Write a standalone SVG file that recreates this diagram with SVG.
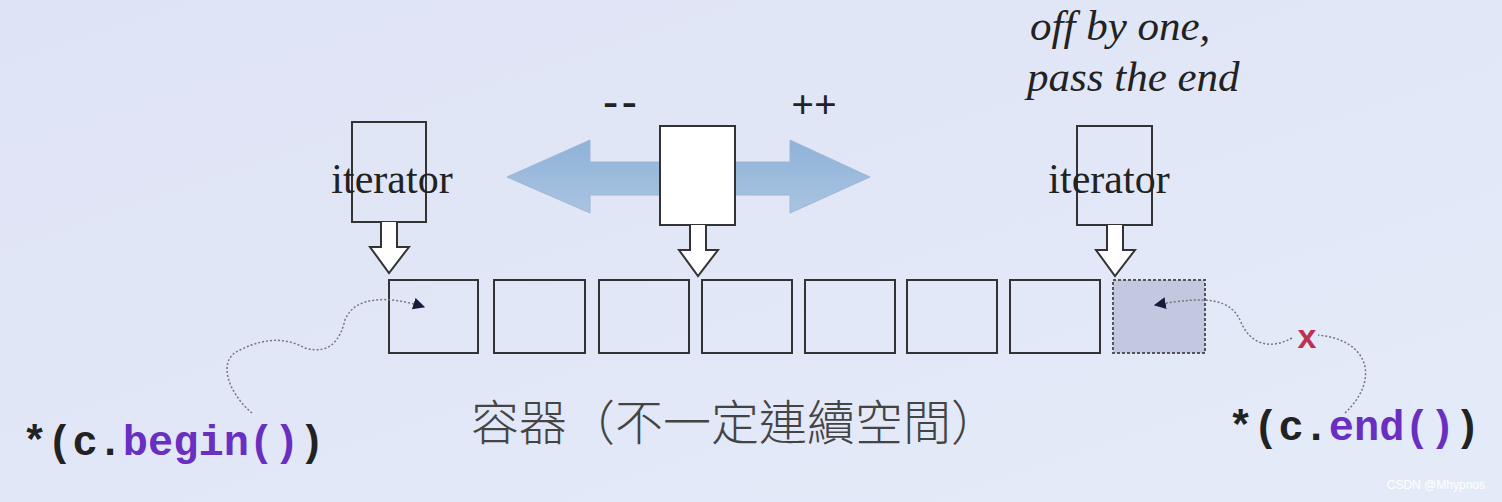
<svg xmlns="http://www.w3.org/2000/svg" width="1502" height="502" viewBox="0 0 1502 502">
<defs>
<linearGradient id="bg" x1="0" y1="0" x2="1" y2="1"><stop offset="0" stop-color="#dfe3f6"/><stop offset="1" stop-color="#e4ebf8"/></linearGradient>
<linearGradient id="ar" x1="0" y1="0" x2="0" y2="1"><stop offset="0" stop-color="#8fb2d8"/><stop offset="1" stop-color="#a9c4e2"/></linearGradient>
<marker id="mk" viewBox="0 0 10 10" refX="9" refY="5" markerWidth="8" markerHeight="8" orient="auto"><path d="M0,0 L10,5 L0,10 z" fill="#1a1a3a"/></marker>
<style>
.cell{fill:none;stroke:#333;stroke-width:2}
.it{fill:#fff;stroke:#333;stroke-width:2}
.hd{fill:#fff;stroke:#333;stroke-width:2}
.serif{font-family:"Liberation Serif",serif;fill:#222}
.mono{font-family:"Liberation Mono",monospace;font-weight:bold;font-size:42px;fill:#222}
.pu{fill:#6a2fc0}
.wig{fill:none;stroke:#777;stroke-width:1.5;stroke-dasharray:2 2}
</style>
</defs>
<rect width="1502" height="502" fill="url(#bg)"/>
<g id="bigarrow"><path d="M507,177 L590,140 L590,162 L790,162 L790,140 L870,177 L790,213 L790,195 L590,195 L590,213 Z" fill="url(#ar)" stroke="#9fb6d4"/></g>
<g id="cells">
<rect class="cell" x="389" y="280" width="89" height="73"/>
<rect class="cell" x="494" y="280" width="91" height="73"/>
<rect class="cell" x="599" y="280" width="90" height="73"/>
<rect class="cell" x="702" y="280" width="90" height="73"/>
<rect class="cell" x="805" y="280" width="90" height="73"/>
<rect class="cell" x="907" y="280" width="90" height="73"/>
<rect class="cell" x="1010" y="280" width="90" height="73"/>
<rect x="1113" y="280" width="92" height="73" fill="#c2c8e0" stroke="#555" stroke-width="2" stroke-dasharray="3 2"/>
</g>
<g id="it1"><rect class="it" x="352" y="122" width="74" height="100" fill-opacity="0"/><path class="hd" d="M381,222 L381,247 L370,247 L389,273 L409,247 L397,247 L397,222"/></g>
<g id="it2"><rect class="it" x="660" y="126" width="75" height="99"/><path class="hd" d="M690,225 L690,250 L679,250 L698,276 L718,250 L706,250 L706,225"/></g>
<g id="it3"><rect class="it" x="1077" y="126" width="75" height="99" fill-opacity="0"/><path class="hd" d="M1107,225 L1107,250 L1096,250 L1115,276 L1135,250 L1123,250 L1123,225"/></g>
<g id="texts">
<text class="serif" x="392" y="193" font-size="42" text-anchor="middle">iterator</text>
<text class="serif" x="1109" y="193" font-size="42" text-anchor="middle">iterator</text>
<text class="serif" x="622" y="116" font-size="44" text-anchor="middle" font-weight="bold" letter-spacing="4">--</text>
<text class="serif" x="814" y="118" font-size="40" text-anchor="middle" font-weight="bold">++</text>
<text class="serif" x="1030" y="40" font-size="43" font-style="italic">off by one,</text>
<text class="serif" x="1027" y="91" font-size="43" font-style="italic">pass the end</text>
<text x="735" y="440" font-size="48" text-anchor="middle" font-family="'Noto Sans CJK TC',sans-serif" font-weight="300" fill="#444">容器（不一定連續空間）</text>
<text class="mono" x="22" y="455">*(c.<tspan class="pu">begin()</tspan>)</text>
<text class="mono" x="1228" y="440">*(c.<tspan class="pu">end()</tspan>)</text>
<text x="1307" y="348" font-family="'Liberation Sans',sans-serif" font-weight="bold" font-size="34" fill="#c03050" text-anchor="middle">x</text>
<text x="1485" y="489" font-family="'Liberation Sans',sans-serif" font-size="12" fill="#fff" text-anchor="end">CSDN @Mhypnos</text>
</g>
<g id="connectors">
<path class="wig" d="M252,413 C230,395 215,360 240,350 C270,335 290,340 305,348 C330,355 340,340 345,320 C355,295 390,296 424,307" marker-end="url(#mk)"/>
<path class="wig" d="M1345,413 C1380,380 1370,340 1318,335 M1292,338 C1270,350 1250,345 1240,320 C1230,300 1210,295 1155,305" marker-end="url(#mk)"/>
</g>
</svg>
